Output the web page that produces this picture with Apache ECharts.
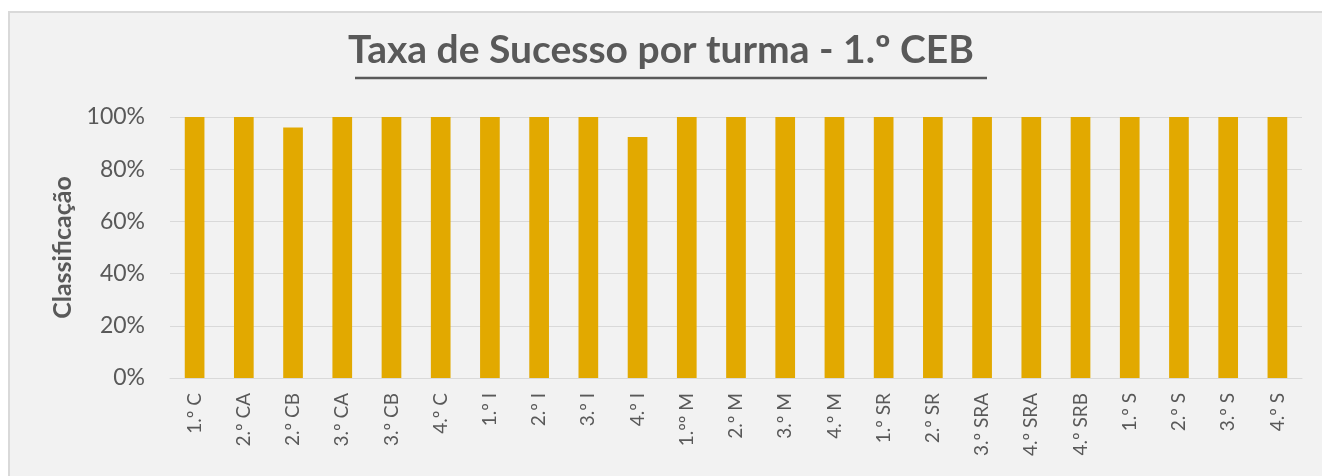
<!DOCTYPE html>
<html>
<head>
<meta charset="utf-8">
<script src="https://cdn.jsdelivr.net/npm/echarts@6/dist/echarts.min.js"></script>
<style>
  html, body { margin: 0; padding: 0; background: #ffffff; }
  #chart { width: 1322px; height: 476px; }
</style>
</head>
<body>
<div id="chart"></div>
<script>
// Taxa de Sucesso por turma - 1.º CEB

const turmas = [
  "1.º C", "2.º CA", "2.º CB", "3.º CA", "3.º CB", "4.º C",
  "1.º I", "2.º I", "3.º I", "4.º I",
  "1.ºº M", "2.º M", "3.º M", "4.º M",
  "1.º SR", "2.º SR", "3.º SRA", "4.º SRA", "4.º SRB",
  "1.º S", "2.º S", "3.º S", "4.º S",
];
const taxaSucesso = [
  1, 1, 0.96, 1, 1, 1,
  1, 1, 1, 0.923,
  1, 1, 1, 1,
  1, 1, 1, 1, 1,
  1, 1, 1, 1,
];
const yTicks = [0, 0.2, 0.4, 0.6, 0.8, 1];

const FONT = "Lato, 'Open Sans', sans-serif";
const GREY = "#595959";

const chart = echarts.init(document.getElementById("chart"), null, { renderer: "canvas" });

chart.setOption({
  backgroundColor: "#ffffff",
  animation: false,
  graphic: [
    {
      // chart frame: cropped on the right and bottom in the reference
      type: "rect",
      z: -10,
      shape: { x: 9, y: 12, width: 1330, height: 480 },
      style: { fill: "#F2F2F2", stroke: "#D9D9D9", lineWidth: 2 },
      silent: true,
    },
    {
      type: "text",
      left: "center",
      top: 31,
      style: {
        text: "Taxa de Sucesso por turma - 1.º CEB",
        font: `bold 39px ${FONT}`,
        fill: GREY,
      },
    },
    {
      type: "line",
      shape: { x1: 355, y1: 78, x2: 987, y2: 78 },
      style: { stroke: GREY, lineWidth: 2.5 },
    },
  ],
  grid: { left: 170, right: 20, top: 117, bottom: 98, containLabel: false },
  xAxis: {
    type: "category",
    data: turmas,
    axisTick: { show: false },
    axisLine: { lineStyle: { color: "#D9D9D9", width: 1 } },
    axisLabel: {
      rotate: 90,
      color: GREY,
      fontFamily: FONT,
      fontSize: 19,
      margin: 15,
      interval: 0,
    },
  },
  yAxis: {
    type: "value",
    min: 0,
    max: 1,
    interval: 0.2,
    name: "Classificação",
    nameLocation: "middle",
    nameGap: 95,
    nameTextStyle: { color: GREY, fontFamily: FONT, fontSize: 25, fontWeight: "bold" },
    axisLine: { show: false },
    axisTick: { show: false },
    splitLine: { lineStyle: { color: "#D9D9D9", width: 1 } },
    axisLabel: {
      color: GREY,
      fontFamily: FONT,
      fontSize: 23,
      margin: 25,
      formatter: (v) => (yTicks.some((t) => Math.abs(t - v) < 1e-9) ? Math.round(v * 100) + "%" : ""),
    },
  },
  series: [
    {
      type: "bar",
      data: taxaSucesso,
      barWidth: "40%",
      itemStyle: { color: "#E2A900" },
    },
  ],
});
</script>
</body>
</html>
